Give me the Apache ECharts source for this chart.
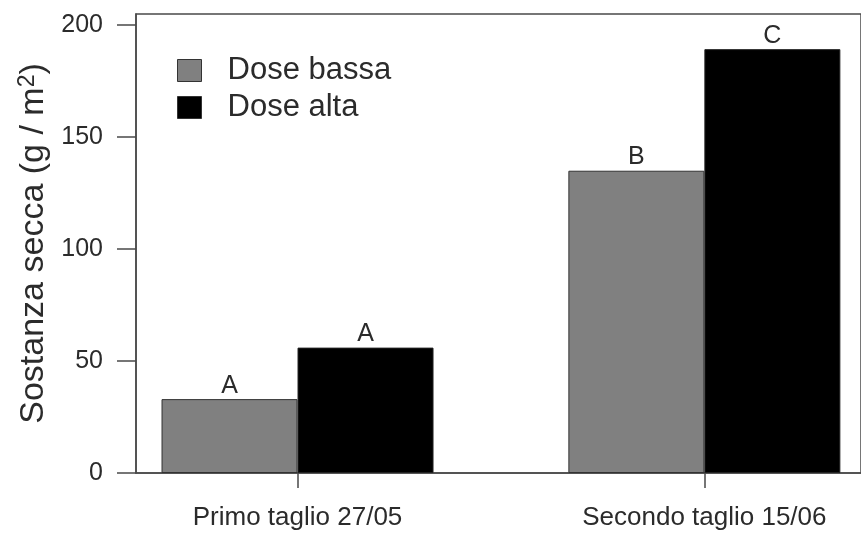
<!DOCTYPE html>
<html>
<head>
<meta charset="utf-8">
<script src="https://cdn.jsdelivr.net/npm/echarts@6/dist/echarts.min.js"></script>
<style>
html,body{margin:0;padding:0;background:#fff;}
#chart{width:861px;height:534px;}
</style>
</head>
<body>
<div id="chart"></div>
<script>
const categories = ['Primo taglio 27/05', 'Secondo taglio 15/06'];
const seriesNames = ['Dose bassa', 'Dose alta'];
const doseBassa = [33, 135];
const doseAlta = [56, 189.3];
const lettersBassa = ['A', 'B'];
const lettersAlta = ['A', 'C'];
const yTicks = [0, 50, 100, 150, 200];

const FONT = '"Liberation Sans", Arial, Helvetica, sans-serif';
const TXT = '#2b2b2b';
const LINE = '#4a4a4a';

const catIdx = categories.map((c, i) => i);

const chart = echarts.init(document.getElementById('chart'), null, {renderer: 'canvas'});
chart.setOption({
  animation: false,
  backgroundColor: '#fff',
  textStyle: {fontFamily: FONT},
  grid: {
    left: 136, top: 14, right: -3, bottom: 61,
    show: true, borderColor: LINE, borderWidth: 1.5, backgroundColor: 'transparent'
  },
  legend: {
    left: 177, top: 55, orient: 'vertical', padding: 0,
    itemWidth: 24, itemHeight: 22, itemGap: 6,
    icon: 'rect',
    data: seriesNames,
    textStyle: {fontSize: 31, color: TXT, fontFamily: FONT, padding: [0, 0, 0, 21], lineHeight: 31},
    itemStyle: {borderColor: '#333', borderWidth: 1}
  },
  xAxis: {
    type: 'value',
    min: -0.397, max: 1.385,
    splitLine: {show: false},
    axisLine: {show: true, onZero: false, lineStyle: {color: LINE, width: 1.5}},
    axisTick: {show: true, customValues: catIdx, length: 15, lineStyle: {color: LINE, width: 1.5}},
    axisLabel: {
      customValues: catIdx,
      formatter: v => categories[Math.round(v)] || '',
      fontSize: 26, color: TXT, margin: 32, fontFamily: FONT
    }
  },
  yAxis: {
    type: 'value',
    min: 0, max: 205,
    splitLine: {show: false},
    axisLine: {show: true, onZero: false, lineStyle: {color: LINE, width: 1.5}},
    axisTick: {show: true, customValues: yTicks, length: 19, lineStyle: {color: LINE, width: 1.5}},
    axisLabel: {customValues: yTicks, fontSize: 25, color: TXT, margin: 33, fontFamily: FONT},
    name: 'Sostanza secca (g / m{s|2})',
    nameLocation: 'middle',
    nameGap: 84,
    nameTextStyle: {
      fontSize: 34, color: TXT, fontFamily: FONT,
      rich: {s: {fontSize: 23, color: TXT, fontFamily: FONT, verticalAlign: 'top', lineHeight: 18}}
    }
  },
  series: [
    {
      name: seriesNames[0], type: 'bar',
      data: catIdx.map(i => [i, doseBassa[i]]),
      barWidth: 136, barGap: '0%',
      itemStyle: {color: '#808080', borderColor: '#333', borderWidth: 1},
      label: {show: true, position: 'top', distance: 1, fontSize: 25, color: TXT, fontFamily: FONT,
        formatter: p => lettersBassa[p.dataIndex]}
    },
    {
      name: seriesNames[1], type: 'bar',
      data: catIdx.map(i => [i, doseAlta[i]]),
      barWidth: 136, barGap: '0%',
      itemStyle: {color: '#000000', borderColor: '#222', borderWidth: 1},
      label: {show: true, position: 'top', distance: 1, fontSize: 25, color: TXT, fontFamily: FONT,
        formatter: p => lettersAlta[p.dataIndex]}
    }
  ]
});
</script>
</body>
</html>
